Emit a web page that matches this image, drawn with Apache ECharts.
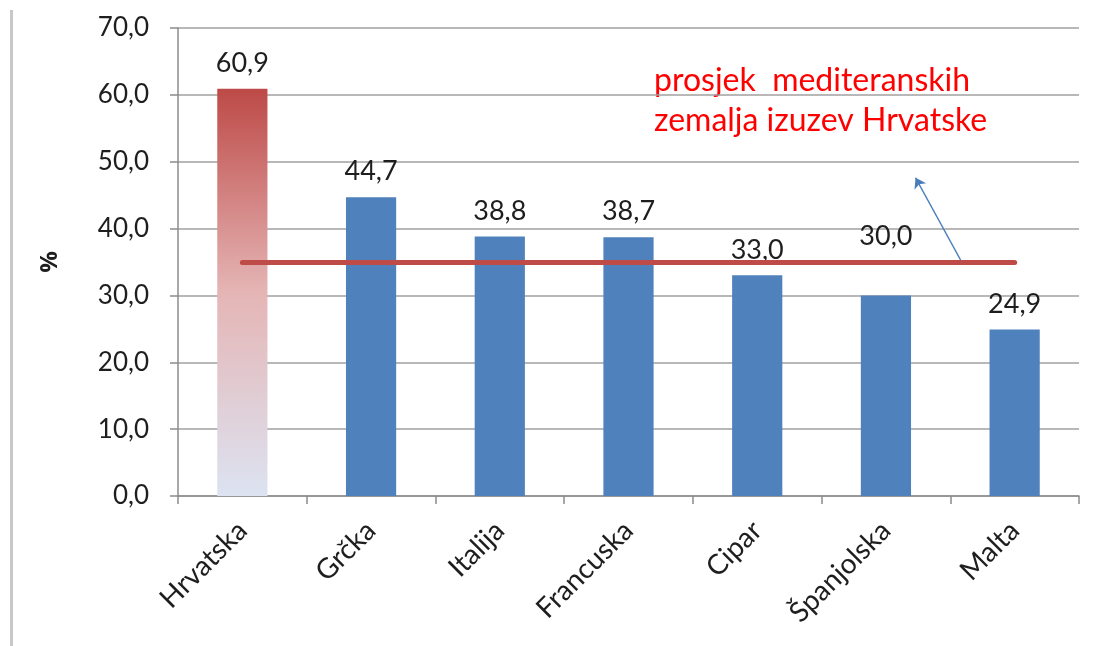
<!DOCTYPE html>
<html>
<head>
<meta charset="utf-8">
<script src="https://cdn.jsdelivr.net/npm/echarts@6/dist/echarts.min.js"></script>
<style>html,body{margin:0;padding:0;background:#fff;}#c{width:1105px;height:646px;}</style>
</head>
<body>
<div id="c"></div>
<script>
var categories = ['Hrvatska', 'Grčka', 'Italija', 'Francuska', 'Cipar', 'Španjolska', 'Malta'];
var values = [60.9, 44.7, 38.8, 38.7, 33.0, 30.0, 24.9];
var averageValue = 35.0;
var yTicks = [0, 10, 20, 30, 40, 50, 60, 70];
var annotationLines = ['prosjek  mediteranskih', 'zemalja izuzev Hrvatske'];
var arrowCoords = [[6.08, 35.3], [5.73, 47.6]];

var FONT = 'Lato';
var chart = echarts.init(document.getElementById('c'), null, {renderer: 'canvas'});
function fmt(v) { return v.toFixed(1).replace('.', ','); }

var barData = values.map(function (v, i) {
  var item = {value: v};
  if (i === 0) {
    item.itemStyle = {
      color: new echarts.graphic.LinearGradient(0, 0, 0, 1, [
        {offset: 0, color: '#BD4A47'},
        {offset: 0.5, color: '#E5B5B5'},
        {offset: 1, color: '#DCE3F1'}
      ])
    };
  }
  if (categories[i] === 'Španjolska') {
    item.label = {offset: [0, -34]};
  }
  return item;
});

var option = {
  backgroundColor: '#fff',
  animation: false,
  grid: {left: 178, right: 26, top: 28, bottom: 150, containLabel: false},
  xAxis: [{
    type: 'category',
    data: categories,
    axisLine: {show: true, lineStyle: {color: '#8c8c8c', width: 1.5}},
    axisTick: {show: true, length: 8, lineStyle: {color: '#8c8c8c', width: 1.5}},
    axisLabel: {rotate: 45, margin: 30, fontFamily: FONT, fontSize: 28, color: '#1e1e1e', interval: 0}
  }, {
    type: 'value', min: 0, max: 7, show: false
  }],
  yAxis: {
    type: 'value',
    min: yTicks[0], max: yTicks[yTicks.length - 1], interval: 10,
    name: '%',
    nameLocation: 'middle',
    nameGap: 116,
    nameRotate: 90,
    nameTextStyle: {fontFamily: 'Open Sans', fontSize: 24, fontWeight: 'bold', color: '#1e1e1e'},
    axisLine: {show: true, lineStyle: {color: '#8c8c8c', width: 1.5}},
    axisTick: {show: true, length: 8, lineStyle: {color: '#8c8c8c', width: 1.5}},
    axisLabel: {formatter: fmt, margin: 29, fontFamily: FONT, fontSize: 26, color: '#1e1e1e'},
    splitLine: {show: true, lineStyle: {color: '#a0a0a0', width: 1.5}}
  },
  series: [{
    type: 'bar',
    data: barData,
    barWidth: '39%',
    itemStyle: {color: '#4F81BD'},
    label: {
      show: true, position: 'top', distance: 12,
      formatter: function (p) { return fmt(p.value); },
      fontFamily: FONT, fontSize: 27, color: '#1e1e1e'
    },
    markLine: {
      silent: true,
      symbol: ['none', 'none'],
      label: {show: false},
      lineStyle: {color: '#BE4B48', width: 5, type: 'solid', cap: 'round'},
      data: [[
        {coord: [categories[0], averageValue]},
        {coord: [categories[categories.length - 1], averageValue]}
      ]]
    },
    z: 2
  }, {
    type: 'lines',
    coordinateSystem: 'cartesian2d',
    xAxisIndex: 1,
    yAxisIndex: 0,
    symbol: ['none', 'arrow'],
    symbolSize: [0, 10],
    lineStyle: {color: '#4a7ebb', width: 1.5, opacity: 1},
    data: [{coords: arrowCoords}],
    z: 5
  }],
  graphic: [
    {type: 'line', shape: {x1: 11.5, y1: 10, x2: 11.5, y2: 646}, style: {stroke: '#c8c8c8', lineWidth: 3}},
    {type: 'text', left: 654, top: 65, style: {text: annotationLines[0], fontFamily: FONT, fontSize: 32, fill: '#FF0000'}},
    {type: 'text', left: 654, top: 105, style: {text: annotationLines[1], fontFamily: FONT, fontSize: 32, fill: '#FF0000'}}
  ]
};
chart.setOption(option);
</script>
</body>
</html>
